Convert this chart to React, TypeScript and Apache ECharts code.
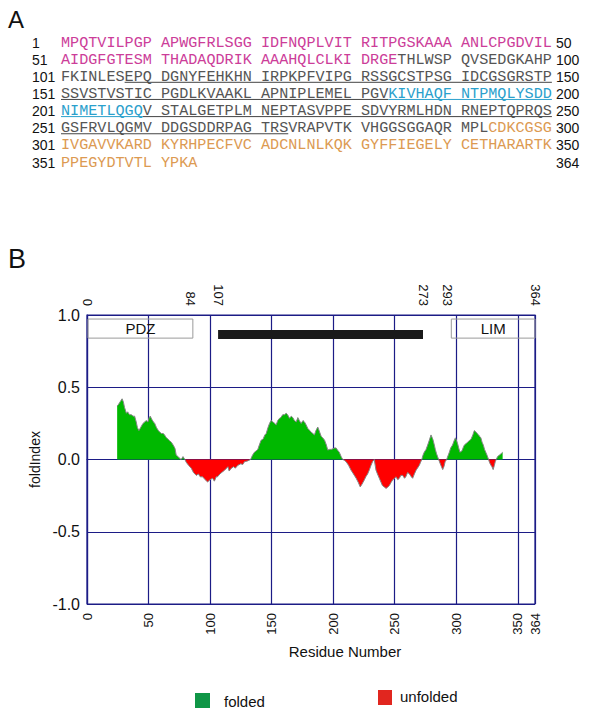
import { useEffect, useRef } from "react";
import * as echarts from "echarts";

// ---------- Panel B data: foldIndex profile ----------
const residues = [
  24.5, 25.5, 27, 28.5, 29.5, 30.5, 32, 33, 34.5, 36, 37.5, 38.7, 40, 41, 42.2, 43.5, 45.5, 47, 48, 49.5,
  50.5, 51.4, 52.5, 54, 55, 56.5, 58, 59, 60.5, 62, 63, 64.5, 66, 67, 68.5, 70, 71, 71.5, 72.5, 74,
  75, 76.5, 78, 79.5, 80.7, 82.5, 84.7, 86.5, 88.8, 90.5, 92, 94, 96, 98, 100, 102, 103.5, 105, 106, 108,
  110, 111.8, 114.5, 115.5, 117, 119, 120.5, 122.6, 125, 126.5, 128, 130.5, 132.9, 134.5, 136, 137.5, 138.8, 140, 141.5, 143,
  144.5, 145.6, 147, 148.3, 149.5, 151, 152.5, 153.7, 155, 156.4, 157.5, 159, 160.5, 161.8, 163, 164.5, 166, 167.2, 168.5, 170,
  171.3, 172.5, 174, 175.5, 176.7, 178, 179.4, 181, 182, 183.5, 184.8, 186, 187.5, 189, 190.3, 191.5, 193, 194.5, 195.6, 197,
  198.4, 200, 201, 202.4, 203.5, 205, 206.5, 207.8, 209, 210.5, 212.5, 214.6, 216.5, 218.7, 220.5, 222, 223.5, 225.4, 226.5, 228,
  229.5, 230.8, 232, 233.4, 234.8, 236, 237.5, 239, 240, 241.5, 243, 244.5, 245.7, 247, 248.4, 250, 251, 252.5, 253.8, 255,
  256.5, 258, 259, 260.5, 262, 263.5, 264.6, 266, 267.4, 268.5, 270, 271, 272, 273, 274, 275.5, 276.8, 278, 279.5, 281,
  282.2, 283, 284, 285.7, 287.5, 289, 290, 291, 292.2, 293.5, 294.4, 295.5, 297, 298.3, 299.3, 300.3, 301.1, 302, 303, 304.7,
  306, 306.6, 308, 309.3, 310.5, 312, 313.5, 314.7, 316, 317, 318.2, 319, 320, 321, 322, 323, 324, 325, 326.3, 327,
  328.2, 329, 330, 331, 331.7, 332.5, 333.6, 335, 336.4, 337.7,
];
const foldIndex = [
  0.37, 0.38, 0.4, 0.42, 0.4, 0.36, 0.32, 0.33, 0.31, 0.31, 0.3, 0.3, 0.26, 0.22, 0.2, 0.22, 0.25, 0.26, 0.27, 0.26,
  0.29, 0.3, 0.28, 0.26, 0.25, 0.22, 0.2, 0.19, 0.18, 0.18, 0.17, 0.15, 0.14, 0.13, 0.12, 0.1, 0.085, 0.076, 0.03, 0.02,
  0.01, 0.0, 0.02, 0.0, -0.02, -0.04, -0.06, -0.09, -0.11, -0.1, -0.12, -0.12, -0.14, -0.155, -0.14, -0.13, -0.15, -0.12, -0.12, -0.1,
  -0.086, -0.074, -0.05, -0.08, -0.063, -0.05, -0.06, -0.04, -0.03, -0.035, -0.015, -0.01, 0.0, 0.03, 0.05, 0.06, 0.07, 0.1, 0.134, 0.14,
  0.17, 0.18, 0.22, 0.25, 0.27, 0.26, 0.25, 0.24, 0.27, 0.285, 0.29, 0.31, 0.31, 0.32, 0.31, 0.285, 0.3, 0.29, 0.27, 0.26,
  0.29, 0.27, 0.25, 0.27, 0.26, 0.24, 0.215, 0.2, 0.19, 0.18, 0.17, 0.2, 0.225, 0.19, 0.16, 0.15, 0.134, 0.1, 0.065, 0.07,
  0.07, 0.075, 0.08, 0.08, 0.065, 0.05, 0.02, 0.0, -0.005, -0.015, -0.04, -0.075, -0.1, -0.13, -0.16, -0.19, -0.17, -0.14, -0.12, -0.1,
  -0.07, -0.04, -0.015, 0.0, -0.074, -0.1, -0.13, -0.16, -0.18, -0.19, -0.2, -0.19, -0.18, -0.16, -0.14, -0.13, -0.12, -0.14, -0.13, -0.11,
  -0.11, -0.13, -0.12, -0.09, -0.1, -0.12, -0.13, -0.1, -0.074, -0.06, -0.04, -0.02, 0.0, 0.03, 0.05, 0.07, 0.1, 0.13, 0.17, 0.14,
  0.1, 0.07, 0.04, 0.0, -0.04, -0.07, -0.05, -0.015, 0.0, 0.03, 0.05, 0.08, 0.1, 0.13, 0.15, 0.13, 0.11, 0.08, 0.05, 0.06,
  0.09, 0.1, 0.11, 0.12, 0.13, 0.14, 0.17, 0.2, 0.19, 0.18, 0.17, 0.16, 0.15, 0.12, 0.1, 0.07, 0.05, 0.03, 0.0, -0.02,
  -0.04, -0.05, -0.07, -0.04, -0.015, 0.0, 0.02, 0.03, 0.04, 0.05,
];

const bottomTicks = [0, 50, 100, 150, 200, 250, 300, 350, 364];
const topTicks = [0, 84, 107, 273, 293, 364];

const domainNames = ["PDZ", "LIM"];
const domainStarts = [0.8, 296];
const domainEnds = [86, 364];
const disorderStart = 106.5;
const disorderEnd = 273;

const legendNames = ["folded", "unfolded"];

// ---------- Panel A data: sequence ----------
const seqRows = [
  "MPQTVILPGPAPWGFRLSGGIDFNQPLVITRITPGSKAAAANLCPGDVIL",
  "AIDGFGTESMTHADAQDRIKAAAHQLCLKIDRGETHLWSPQVSEDGKAHP",
  "FKINLESEPQDGNYFEHKHNIRPKPFVIPGRSSGCSTPSGIDCGSGRSTP",
  "SSVSTVSTICPGDLKVAAKLAPNIPLEMELPGVKIVHAQFNTPMQLYSDD",
  "NIMETLQGQVSTALGETPLMNEPTASVPPESDVYRMLHDNRNEPTQPRQS",
  "GSFRVLQGMVDDGSDDRPAGTRSVRAPVTKVHGGSGGAQRMPLCDKCGSG",
  "IVGAVVKARDKYRHPECFVCADCNLNLKQKGYFFIEGELYCETHARARTK",
  "PPEGYDTVTLYPKA",
];
const rowStartNums = [1, 51, 101, 151, 201, 251, 301, 351];
const rowEndNums = [50, 100, 150, 200, 250, 300, 350, 364];
const pdzResidues = [1, 84];
const cyanResidues = [184, 209];
const limResidues = [294, 364];
const underlineResidues = [108, 273];

const MAG = "#cc3d99";
const CYAN = "#2aa0cc";
const ORANGE = "#dc9a52";
const GRAY = "#555555";
const NAVY = "#1c1c86";
const SANS = '"Liberation Sans", Arial, sans-serif';
const MONO = '"Liberation Mono", "Courier New", monospace';

function colorOf(n: number) {
  if (n >= pdzResidues[0] && n <= pdzResidues[1]) return MAG;
  if (n >= cyanResidues[0] && n <= cyanResidues[1]) return CYAN;
  if (n >= limResidues[0] && n <= limResidues[1]) return ORANGE;
  return GRAY;
}
function isUnderlined(n: number) {
  return n >= underlineResidues[0] && n <= underlineResidues[1];
}

function buildSequenceGraphics() {
  const els: any[] = [];
  const charW = 9.09;
  const x0 = 61;
  const rowY = (i: number) => 42.5 + i * 17.15;
  const xOf = (p: number) => x0 + Math.floor(p / 10) * 100 + (p % 10) * charW;
  seqRows.forEach((row, i) => {
    const y = rowY(i);
    const start = rowStartNums[i];
    els.push({
      type: "text",
      x: 32,
      y,
      style: { text: String(start), fill: "#111", font: `14px ${SANS}`, textAlign: "left", textVerticalAlign: "middle", align: "left", verticalAlign: "middle" },
    });
    els.push({
      type: "text",
      x: 556,
      y,
      style: { text: String(rowEndNums[i]), fill: "#111", font: `14px ${SANS}`, textAlign: "left", textVerticalAlign: "middle", align: "left", verticalAlign: "middle" },
    });
    let p = 0;
    while (p < row.length) {
      const c = colorOf(start + p);
      let q = p;
      while (q + 1 < row.length && Math.floor((q + 1) / 10) === Math.floor(p / 10) && colorOf(start + q + 1) === c) q++;
      els.push({
        type: "text",
        x: xOf(p),
        y,
        style: { text: row.slice(p, q + 1), fill: c, font: `15.15px ${MONO}`, textAlign: "left", textVerticalAlign: "middle", align: "left", verticalAlign: "middle" },
      });
      p = q + 1;
    }
    p = 0;
    while (p < row.length) {
      if (!isUnderlined(start + p)) { p++; continue; }
      const c = colorOf(start + p);
      let q = p;
      while (q + 1 < row.length && isUnderlined(start + q + 1) && colorOf(start + q + 1) === c) q++;
      els.push({
        type: "line",
        shape: { x1: xOf(p), y1: y + 5.5, x2: xOf(q) + charW, y2: y + 5.5 },
        style: { stroke: c === GRAY ? "#444" : c, lineWidth: 1 },
      });
      p = q + 1;
    }
  });
  return els;
}

export default function App() {
  const ref = useRef<HTMLDivElement>(null);
  useEffect(() => {
    if (!ref.current) return;
    const chart = echarts.init(ref.current, null, { renderer: "svg" });
    const pos = residues.map((r, i) => [r, Math.max(foldIndex[i], 0)]);
    const neg = residues.map((r, i) => [r, Math.min(foldIndex[i], 0)]);
    const full = residues.map((r, i) => [r, foldIndex[i]]);

    const domainAreas: any[] = domainNames.map((name, i) => [
      {
        name,
        xAxis: domainStarts[i],
        yAxis: 0.84,
        itemStyle: { color: "rgba(255,255,255,0)", borderColor: "#9a9a9a", borderWidth: 1 },
        label: { show: true, position: "inside", color: "#111", fontSize: 15, fontFamily: SANS },
      },
      { xAxis: domainEnds[i], yAxis: 0.972 },
    ]);
    domainAreas.push([
      {
        name: "",
        xAxis: disorderStart,
        yAxis: 0.834,
        itemStyle: { color: "#1a1a1a", borderWidth: 0 },
        label: { show: false },
      },
      { xAxis: disorderEnd, yAxis: 0.897 },
    ]);

    chart.setOption({
      animation: false,
      backgroundColor: "#fff",
      grid: { left: 87, right: 65, top: 315, bottom: 110, show: true, borderColor: NAVY, borderWidth: 1.2 },
      xAxis: [
        {
          type: "value",
          min: 0,
          max: 364,
          interval: 50,
          position: "bottom",
          axisLine: { show: true, lineStyle: { color: NAVY, width: 1.2 } },
          axisTick: { show: false },
          splitLine: { show: true, lineStyle: { color: NAVY, width: 1.2 } },
          axisLabel: { customValues: bottomTicks, rotate: 90, fontSize: 13, color: "#111", margin: 9, fontFamily: SANS },
        },
        {
          type: "value",
          min: 0,
          max: 364,
          position: "top",
          axisLine: { show: false },
          axisTick: { show: false },
          splitLine: { show: false },
          axisLabel: { customValues: topTicks, rotate: 90, fontSize: 13, color: "#111", margin: 9, fontFamily: SANS },
        },
      ],
      yAxis: {
        type: "value",
        min: -1,
        max: 1,
        interval: 0.5,
        axisLine: { show: true, lineStyle: { color: NAVY, width: 1.2 } },
        axisTick: { show: false },
        splitLine: { show: true, lineStyle: { color: NAVY, width: 1.2 } },
        axisLabel: { formatter: (v: number) => v.toFixed(1), fontSize: 16, color: "#111", margin: 7, fontFamily: SANS },
        name: "foldIndex",
        nameLocation: "middle",
        nameGap: 40,
        nameTextStyle: { fontSize: 14, color: "#111", fontFamily: SANS },
      },
      series: [
        {
          type: "line",
          data: pos,
          showSymbol: false,
          lineStyle: { width: 0 },
          areaStyle: { color: "#00b800", opacity: 1 },
          z: 3,
        },
        {
          type: "line",
          data: neg,
          showSymbol: false,
          lineStyle: { width: 0 },
          areaStyle: { color: "#ff0000", opacity: 1 },
          z: 3,
        },
        {
          type: "line",
          data: full,
          showSymbol: false,
          lineStyle: { width: 1, color: "#858585" },
          z: 4,
          markArea: { silent: true, data: domainAreas },
        },
      ],
      graphic: [
        { type: "text", x: 8, y: 19, style: { text: "A", fill: "#111", font: `24px ${SANS}`, textVerticalAlign: "middle", verticalAlign: "middle" } },
        { type: "text", x: 8, y: 259, style: { text: "B", fill: "#111", font: `27px ${SANS}`, textVerticalAlign: "middle", verticalAlign: "middle" } },
        ...buildSequenceGraphics(),
        {
          type: "text",
          x: 345,
          y: 651,
          style: { text: "Residue Number", fill: "#111", font: `15px ${SANS}`, textAlign: "center", textVerticalAlign: "middle", align: "center", verticalAlign: "middle" },
        },
        { type: "rect", shape: { x: 195, y: 693, width: 15, height: 15 }, style: { fill: "#0f9646" } },
        {
          type: "text",
          x: 224,
          y: 701,
          style: { text: legendNames[0], fill: "#111", font: `15px ${SANS}`, textVerticalAlign: "middle", verticalAlign: "middle" },
        },
        { type: "rect", shape: { x: 378, y: 690, width: 14, height: 15 }, style: { fill: "#e1261f" } },
        {
          type: "text",
          x: 400,
          y: 696,
          style: { text: legendNames[1], fill: "#111", font: `15px ${SANS}`, textVerticalAlign: "middle", verticalAlign: "middle" },
        },
      ],
    });
    return () => chart.dispose();
  }, []);
  return <div ref={ref} style={{ position: "absolute", left: 0, top: 0, width: 600, height: 714 }} />;
}
